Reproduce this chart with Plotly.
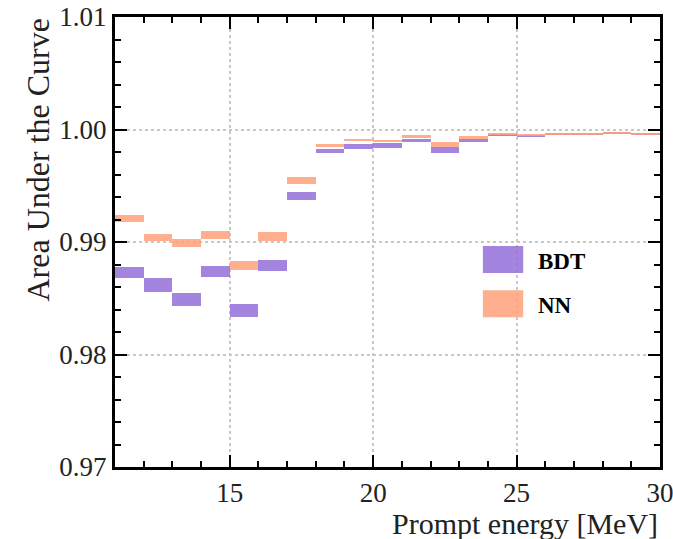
import plotly.graph_objects as go

# Bin lower edges (MeV), width 1 MeV
bin_low = [11, 12, 13, 14, 15, 16, 17, 18, 19, 20, 21, 22, 23, 24, 25, 26, 27, 28, 29]

bdt_auc = [0.9873, 0.9862, 0.9849, 0.9874, 0.9839, 0.9879, 0.9941, 0.9981, 0.9985, 0.9986,
           0.9990, 0.9982, 0.9990, 0.9995, 0.9994, 0.9996, 0.9996, 0.99972, 0.9996]
bdt_err = [0.0005, 0.0006, 0.0006, 0.0005, 0.0006, 0.0005, 0.00035, 0.0002, 0.0002, 0.0002,
           0.00015, 0.00027, 0.00015, 0.0001, 0.0001, 0.00008, 0.00008, 0.00008, 0.00008]
nn_auc = [0.9921, 0.9904, 0.9899, 0.9906, 0.9879, 0.9905, 0.9955, 0.9986, 0.9991, 0.9990,
          0.99935, 0.9987, 0.9993, 0.9996, 0.9995, 0.9996, 0.9996, 0.99972, 0.9996]
nn_err = [0.0003, 0.00035, 0.00035, 0.00035, 0.0004, 0.0004, 0.00032, 0.00015, 0.0001, 0.0001,
          0.00013, 0.00022, 0.00013, 0.0001, 0.0001, 0.00008, 0.00008, 0.00008, 0.00008]

series_names = ["BDT", "NN"]
series_colors = ["rgba(147,112,219,0.85)", "rgba(255,160,122,0.85)"]

x_ticks = [15, 20, 25, 30]
y_ticks = [0.97, 0.98, 0.99, 1.00, 1.01]
y_ticklabels = ["0.97", "0.98", "0.99", "1.00", "1.01"]

FONT = "Liberation Serif, Times New Roman, serif"

fig = go.Figure()
for name, color, vals, errs in [(series_names[0], series_colors[0], bdt_auc, bdt_err),
                                (series_names[1], series_colors[1], nn_auc, nn_err)]:
    fig.add_trace(go.Bar(
        x=[b + 0.5 for b in bin_low],
        y=[2 * e for e in errs],
        base=[v - e for v, e in zip(vals, errs)],
        width=1,
        name=name,
        marker=dict(color=color, line=dict(width=0)),
        showlegend=False,
    ))

# manual legend (large boxes like the reference)
leg_y = [0.461, 0.363]
for i, (name, color) in enumerate(zip(series_names, series_colors)):
    fig.add_shape(type="rect", xref="paper", yref="paper",
                  x0=0.675, x1=0.749, y0=leg_y[i] - 0.03, y1=leg_y[i] + 0.03,
                  fillcolor=color, line=dict(width=0))
    fig.add_annotation(xref="paper", yref="paper", x=0.772, y=leg_y[i] - 0.005, text="<b>%s</b>" % name,
                       showarrow=False, xanchor="left", yanchor="middle",
                       font=dict(family=FONT, size=23, color="black"))

axis_common = dict(
    showline=True, linecolor="black", linewidth=3, mirror="allticks",
    ticks="inside", ticklen=12, tickwidth=2, tickcolor="black",
    showgrid=True, gridcolor="#c8c8c8", griddash="dot", gridwidth=1.5,
    zeroline=False, ticklabeloverflow="allow",
    tickfont=dict(family=FONT, size=27, color="#222"),
)

fig.update_xaxes(range=[11, 30], tickvals=x_ticks,
                 minor=dict(dtick=1, tick0=11, ticks="inside", ticklen=6, tickwidth=1.5,
                            tickcolor="black", showgrid=False),
                 **axis_common)
fig.update_yaxes(range=[0.97, 1.01], tickvals=y_ticks, ticktext=y_ticklabels,
                 minor=dict(dtick=0.002, tick0=0.97, ticks="inside", ticklen=6, tickwidth=1.5,
                            tickcolor="black", showgrid=False),
                 **axis_common)

fig.add_annotation(xref="paper", yref="paper", x=1.0, y=0, yshift=-38, text="Prompt energy [MeV]",
                   showarrow=False, xanchor="right", yanchor="top",
                   font=dict(family=FONT, size=30, color="#222"))
fig.add_annotation(xref="paper", yref="paper", x=0, xshift=-78, y=1.0, text="Area Under the Curve",
                   showarrow=False, textangle=-90, xanchor="center", yanchor="top",
                   font=dict(family=FONT, size=32, color="#222"))

fig.update_layout(
    width=673, height=539,
    margin=dict(l=115, r=13, t=17, b=72, autoexpand=False),
    paper_bgcolor="white", plot_bgcolor="white",
    barmode="overlay", bargap=0,
)

fig.write_html("out.html", config={"displayModeBar": False},
               post_script="document.body.style.margin='0';document.body.style.overflow='hidden';")
